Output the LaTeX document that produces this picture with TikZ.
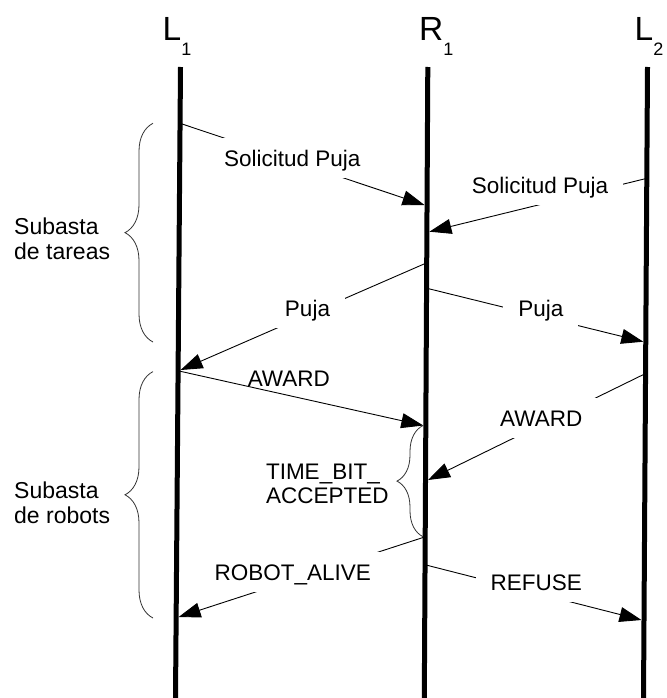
\documentclass[tikz,border=0pt]{standalone}
\usepackage{fontspec}
\setmainfont{Liberation Sans}
\usetikzlibrary{arrows.meta,decorations.pathreplacing}
\newcommand\lifehead[2]{{\fontsize{33.5}{40}\selectfont #1}\raisebox{-14.7pt}{\fontsize{18}{20}\selectfont #2}}
\begin{document}
\begin{tikzpicture}[x=1pt,y=-1pt,
  life/.style={line width=5pt},
  msg/.style={line width=0.9pt,-{Triangle[length=22pt,width=15pt]}},
  lbl/.style={fill=white,inner xsep=15pt,inner ysep=11.5pt,text height=17pt,text depth=0pt,anchor=base,font=\fontsize{22.5}{27}\selectfont},
  plainlbl/.style={inner sep=0pt,anchor=base,font=\fontsize{22.5}{27}\selectfont},
  multilbl/.style={inner sep=0pt,anchor=north west,align=left,font=\fontsize{22.5}{24}\selectfont},
  grouplbl/.style={inner sep=0pt,anchor=north west,align=left,font=\fontsize{23}{25.3}\selectfont},
  headlbl/.style={inner sep=0pt,anchor=base west},
  grp/.style={decorate,decoration={brace,amplitude=28pt},line width=0.8pt,black!80},
  smallgrp/.style={decorate,decoration={brace,amplitude=26pt},line width=0.8pt,black!80}]
\fill[white] (0,0) rectangle (666,698);
\useasboundingbox (0,0) rectangle (666,698);
% lifeline heads
\node[headlbl] (hL1) at (162.5,41) {\lifehead{L}{1}};
\node[headlbl] (hR1) at (419,41) {\lifehead{R}{1}};
\node[headlbl] (hL2) at (634.5,41) {\lifehead{L}{2}};
% lifelines
\coordinate (L1t) at (180.5,67); \coordinate (L1b) at (175.5,698);
\coordinate (R1t) at (427.8,67); \coordinate (R1b) at (424.3,698);
\coordinate (L2t) at (647.5,67); \coordinate (L2b) at (643.5,698);
\draw[life] (L1t) -- (L1b);
\draw[life] (R1t) -- (R1b);
\draw[life] (L2t) -- (L2b);
% message end points
\coordinate (m1s) at (180,123.3);   \coordinate (m1e) at (424.5,205);
\coordinate (m2s) at (647,178.3);   \coordinate (m2e) at (429.4,231.7);
\coordinate (m3s) at (427,262.7);   \coordinate (m3e) at (180.6,370);
\coordinate (m4s) at (427,288.3);   \coordinate (m4e) at (643.3,341.7);
\coordinate (m5s) at (179,371);     \coordinate (m5e) at (423.3,425.5);
\coordinate (m6s) at (646,373.3);   \coordinate (m6e) at (428,480);
\coordinate (m7s) at (425.5,536.7); \coordinate (m7e) at (178.6,617);
\coordinate (m8s) at (426,565);     \coordinate (m8e) at (641.5,620);
\draw[msg] (m1s) -- (m1e);
\draw[msg] (m2s) -- (m2e);
\draw[msg] (m3s) -- (m3e);
\draw[msg] (m4s) -- (m4e);
\draw[msg] (m5s) -- (m5e);
\draw[msg] (m6s) -- (m6e);
\draw[msg] (m7s) -- (m7e);
\draw[msg] (m8s) -- (m8e);
% message labels
\node[lbl] (t1) at (292.2,166.7) {Solicitud Puja};
\node[lbl] (t2) at (540,193.3) {Solicitud Puja};
\node[lbl] (t3) at (307.5,316) {Puja};
\node[lbl] (t4) at (540.8,316) {Puja};
\node[plainlbl] (t5) at (288.8,386.7) {AWARD};
\node[lbl] (t6) at (541.2,426.7) {AWARD};
\node[multilbl] (t7) at (265.8,463.9) {TIME\_BIT\_\\ACCEPTED};
\node[lbl] (t8) at (292.7,580) {ROBOT\_ALIVE};
\node[lbl] (t9) at (536.3,590) {REFUSE};
% braces
\coordinate (b1s) at (153,342);   \coordinate (b1e) at (153,123.3);
\coordinate (b2s) at (153,618);   \coordinate (b2e) at (153,371.6);
\coordinate (b3s) at (423,536.7); \coordinate (b3e) at (423,425.5);
\draw[grp] (b1s) -- (b1e);
\draw[grp] (b2s) -- (b2e);
\draw[smallgrp] (b3s) -- (b3e);
\node[grouplbl] (g1) at (14,217.8) {Subasta\\de tareas};
\node[grouplbl] (g2) at (14,481.2) {Subasta\\de robots};
\end{tikzpicture}
\end{document}
